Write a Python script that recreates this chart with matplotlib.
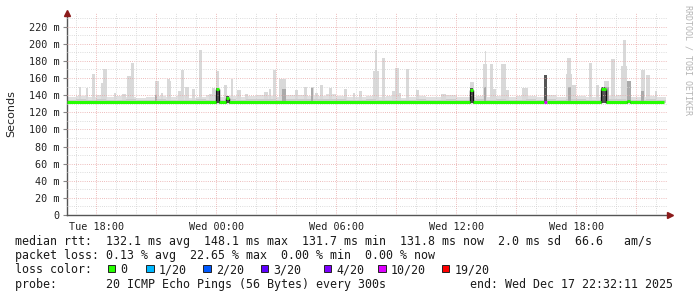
import matplotlib
matplotlib.use("Agg")
import matplotlib.pyplot as plt
from matplotlib.patches import Rectangle
from matplotlib.ticker import MultipleLocator, FuncFormatter
import numpy as np

# --- data (time in hours since Tue 00:00, values in ms) ---
t_start = 16 + 32 / 60
t_end = t_start + 30

# light smoke top, one value per half hour starting 16:30
smoke_top = [138, 139, 138, 140, 138, 139, 138, 137, 138, 139, 138, 139, 137, 138, 140,
             138, 139, 138, 139, 140, 139, 138, 140, 140, 139, 139, 141, 139, 138, 138,
             139, 138, 139, 137, 138, 139, 138, 138, 140, 138, 138, 139, 138, 139, 138,
             139, 139, 138, 140, 138, 139, 139, 138, 138, 139, 140, 138, 138, 139, 138, 138]
# darker inner smoke, same half-hour grid
smoke_core = [134, 135, 134, 135, 134, 134, 135, 134, 134, 135, 134, 134, 134, 135, 134,
              134, 135, 134, 135, 136, 135, 134, 135, 136, 135, 135, 136, 135, 134, 134,
              135, 134, 134, 134, 134, 135, 134, 134, 135, 134, 134, 135, 134, 135, 134,
              134, 135, 134, 135, 134, 135, 135, 134, 134, 135, 135, 134, 134, 135, 134, 134]

# single spikes of the smoke
spike_start = [17.12, 17.49, 17.79, 18.22, 18.35, 18.89, 19.29, 19.52, 19.75, 20.95,
               21.24, 21.52, 21.69, 22.09, 22.22, 22.45, 22.79, 23.12, 23.62, 23.79,
               24.00, 24.39, 24.72, 25.02, 25.44, 26.39, 26.62, 26.85, 27.12, 27.94,
               28.39, 28.72, 28.94, 29.19, 29.62, 30.39, 30.82, 31.15, 31.85, 31.92,
               32.29, 32.79, 32.95, 33.12, 33.49, 33.99, 35.24, 36.69, 37.35, 37.42,
               37.69, 37.84, 38.24, 38.49, 39.29, 41.50, 41.55, 41.79, 42.62, 42.99,
               43.38, 43.75, 44.25, 44.32, 44.54, 45.22, 45.49, 45.94]
spike_end = [17.25, 17.59, 17.94, 18.32, 18.52, 18.99, 19.49, 19.75, 19.89, 21.12,
             21.34, 21.69, 21.74, 22.22, 22.39, 22.62, 22.94, 23.29, 23.79, 23.95,
             24.14, 24.54, 24.85, 25.22, 25.59, 26.59, 26.72, 26.99, 27.49, 28.09,
             28.52, 28.89, 29.09, 29.32, 29.79, 30.52, 30.92, 31.29, 32.12, 32.02,
             32.45, 32.94, 33.12, 33.24, 33.62, 34.14, 35.49, 36.89, 37.52, 37.50,
             37.84, 37.99, 38.49, 38.64, 39.59, 41.78, 41.72, 41.99, 42.79, 43.12,
             43.62, 43.95, 44.52, 44.47, 44.72, 45.45, 45.69, 46.04]
spike_top = [150, 148, 165, 154, 171, 143, 141, 162, 178, 157,
             142, 159, 157, 145, 169, 150, 147, 193, 141, 148,
             168, 152, 159, 146, 141, 144, 147, 169, 159, 146,
             150, 149, 142, 152, 148, 147, 142, 145, 168, 193,
             184, 145, 172, 143, 171, 146, 141, 155, 177, 192,
             176, 147, 176, 146, 148, 165, 183, 152, 178, 152,
             157, 182, 174, 204, 157, 169, 163, 145]

# darker smoke inside some spikes
dark_start = [20.95, 27.30, 28.72, 37.40, 41.58, 43.50, 44.55, 45.25]
dark_end = [21.05, 27.49, 28.85, 37.50, 41.72, 43.62, 44.72, 45.40]
dark_top = [140, 147, 148, 150, 150, 150, 157, 145]

# median rtt, piecewise constant (start of each piece) and packet loss
median_start = [t_start, 24.00, 24.14, 24.50, 24.65, 36.67, 36.85, 40.39, 40.52,
                 43.25, 43.49, 44.55, 44.70]
median_val = [131.8, 147.5, 131.8, 136.5, 131.8, 146.5, 131.8, 131.8, 131.8,
              147.7, 131.8, 133.5, 131.8]
median_loss = [0, 0, 0, 0, 0, 0, 0, 10, 0, 0, 0, 0, 0]
median_stop = 46.38

# smoke of the steps where the median moved
event_start = [24.00, 24.50, 36.67, 40.39, 43.25]
event_end = [24.14, 24.65, 36.85, 40.52, 43.49]
event_top = [148, 139, 148, 163, 149]

loss_labels = ["0", "1/20", "2/20", "3/20", "4/20", "10/20", "19/20"]
loss_colors = ["#26ff00", "#00b8ff", "#0059ff", "#5e00ff", "#7e00ff", "#dd00ff", "#ff0000"]
loss_levels = [0, 1, 2, 3, 4, 10, 19]

W, H = 697, 297
fig = plt.figure(figsize=(W / 100, H / 100), dpi=100)
ax = fig.add_axes([67 / W, 1 - 215 / H, 600 / W, 202 / H])
ax.set_xlim(t_start, t_end)
ax.set_ylim(0, 236)

base = 131.0
half = np.arange(len(smoke_top)) * 0.5 + 16.5
ax.fill_between(half, base, smoke_top, step="post", color="#e0e0e0", lw=0, zorder=1)
ax.fill_between(half, base, smoke_core, step="post", color="#cccccc", lw=0, zorder=2)

s0 = np.array(spike_start)
s1 = np.array(spike_end)
ax.bar(s0, np.array(spike_top) - base, width=s1 - s0, bottom=base, align="edge",
       color="#d9d9d9", lw=0, zorder=1.5)
d0 = np.array(dark_start)
d1 = np.array(dark_end)
ax.bar(d0, np.array(dark_top) - base, width=d1 - d0, bottom=base, align="edge",
       color="#aaaaaa", lw=0, zorder=2.5)
e0 = np.array(event_start)
e1 = np.array(event_end)
ax.bar(e0, np.array(event_top) - base, width=e1 - e0, bottom=base, align="edge",
       color="#555555", lw=0, zorder=3)

# grid (rrdtool style, drawn over the smoke)
dots = (0, (0.72, 1.44))
for y in np.arange(10, 236, 10):
    major = (y % 20 == 0)
    ax.axhline(y, color="#e8a8a8" if major else "#d2d2d2", lw=0.72, ls=dots, zorder=4)
for h in np.arange(17, 47, 1):
    major = (h % 3 == 0)
    ax.axvline(h, color="#e8a8a8" if major else "#d2d2d2", lw=0.72, ls=dots, zorder=4)

# median line coloured by loss, black vertical joins
ends = median_start[1:] + [median_stop]
for a, b, v, l in zip(median_start, ends, median_val, median_loss):
    c = loss_colors[loss_levels.index(l)]
    ax.hlines(v, a, b, color=c, lw=2.2, zorder=6)
for i in range(1, len(median_start)):
    if median_val[i] != median_val[i - 1]:
        lo, hi = sorted([median_val[i], median_val[i - 1]])
        ax.vlines(median_start[i], lo - 1.5, hi, color="#111111", lw=1.0, zorder=5)

# axes
for s in ["top", "right"]:
    ax.spines[s].set_visible(False)
for s in ["left", "bottom"]:
    ax.spines[s].set_color("#555555")
    ax.spines[s].set_linewidth(1.0)
ax.plot([0], [1.0], marker="^", color="#8b1a1a", ms=4, transform=ax.transAxes, clip_on=False, zorder=7)
ax.plot([1.005], [0], marker=">", color="#8b1a1a", ms=4, transform=ax.transAxes, clip_on=False, zorder=7)

ax.yaxis.set_major_locator(MultipleLocator(20))
ax.yaxis.set_major_formatter(FuncFormatter(lambda v, p: "0" if v == 0 else "%d m" % v))
ax.set_xticks([18, 24, 30, 36, 42])
ax.set_xticklabels(["Tue 18:00", "Wed 00:00", "Wed 06:00", "Wed 12:00", "Wed 18:00"])
ax.tick_params(axis="y", length=3, width=0.8, color="#888888", pad=2.5,
               labelsize=7.3, labelcolor="#222222")
ax.tick_params(axis="x", length=0, pad=5, labelsize=7.3, labelcolor="#222222")
for lab in ax.get_xticklabels() + ax.get_yticklabels():
    lab.set_family("DejaVu Sans Mono")

fig.text(11 / W, 1 - 114 / H, "Seconds", rotation=90, ha="center", va="center",
         fontsize=8, color="#222222", family="DejaVu Sans")
fig.text(688 / W, 1 - 5 / H, "RRDTOOL / TOBI OETIKER", rotation=270, ha="center", va="top",
         fontsize=6, color="#b4b4b4", family="DejaVu Sans Mono")

# legend lines
mono = dict(family="DejaVu Sans Mono", fontsize=8.4, color="#1a1a1a", va="baseline")
x0 = 14.8
fig.text(x0 / W, 1 - 244.5 / H,
         "median rtt:  132.1 ms avg  148.1 ms max  131.7 ms min  131.8 ms now  2.0 ms sd  66.6   am/s",
         **mono)
fig.text(x0 / W, 1 - 259 / H,
         "packet loss: 0.13 % avg  22.65 % max  0.00 % min  0.00 % now", **mono)
fig.text(x0 / W, 1 - 273.3 / H, "loss color:", **mono)
box_x = [107.5, 146, 203.3, 260.7, 323.5, 378.3, 441.7]
for bx, lab, col in zip(box_x, loss_labels, loss_colors):
    fig.patches.append(Rectangle((bx / W, 1 - 272 / H), 7.5 / W, 7.5 / H,
                                 transform=fig.transFigure, facecolor=col,
                                 edgecolor="#222222", lw=0.7))
    fig.text((bx + 12.5) / W, 1 - 273.3 / H, lab, **mono)
fig.text(x0 / W, 1 - 287.7 / H,
         "probe:       20 ICMP Echo Pings (56 Bytes) every 300s            end: Wed Dec 17 22:32:11 2025",
         **mono)

fig.savefig("out.png", dpi=100, facecolor="white")
